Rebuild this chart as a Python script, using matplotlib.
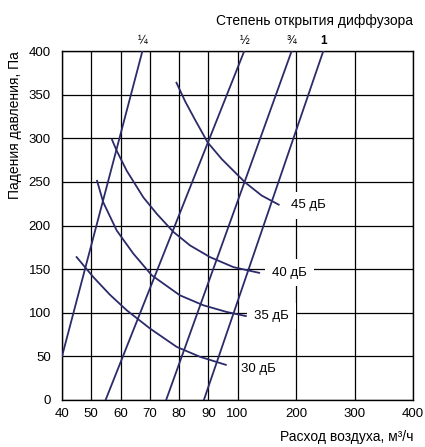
"""
Падение давления диффузора в зависимости от расхода воздуха
(номограмма: степень открытия + уровни шума).

Output: out.png
"""

import matplotlib
matplotlib.use('Agg')
import matplotlib.pyplot as plt
import numpy as np

plt.rcParams['font.family'] = ['Liberation Sans', 'DejaVu Sans']

# --- data -----------------------------------------------------------------
x_ticks = [40, 50, 60, 70, 80, 90, 100, 200, 300, 400]
y_ticks = [0, 50, 100, 150, 200, 250, 300, 350, 400]

# diffuser opening lines (bottom point -> top point)
opening_labels = ['¼', '½', '¾', '1']
opening_q_bottom = [40, 54.9, 75.6, 88.5]
opening_p_bottom = [50, 0, 0, 0]
opening_q_top = [67.5, 111.6, 192.6, 246.7]
opening_p_top = [400, 400, 400, 400]

# noise level curves
q_45 = [79.0, 82.1, 85.5, 89.8, 94.6, 112.8, 141.4, 171.8]
p_45 = [364.6, 342.3, 321.1, 295.2, 276.2, 249.5, 234.3, 223.4]

q_40 = [57.0, 58.7, 62.1, 67.8, 72.4, 78.1, 83.8, 90.6, 98.6, 138.5]
p_40 = [299.1, 285.7, 262.9, 232.3, 213.4, 192.6, 177.1, 163.8, 152.3, 145.5]

q_35 = [51.9, 54.1, 58.7, 64.4, 70.7, 80.3, 88.3, 96.3, 115.7]
p_35 = [252.2, 226.6, 194.3, 167.7, 142.9, 120.0, 108.6, 100.9, 96.0]

q_30 = [44.8, 50.7, 56.4, 62.1, 70.1, 79.2, 87.2, 96.3]
p_30 = [164.6, 140.9, 120.6, 102.9, 81.9, 60.9, 49.5, 40.0]

noise_labels = ['45 дБ', '40 дБ', '35 дБ', '30 дБ']
noise_label_q = [222, 189, 158, 136]
noise_label_p = [223, 146, 96, 36]


# piecewise axis: 40..100 step 10 and 100..400 step 100 get equal room per tick
def fwd(x):
    x = np.asarray(x, dtype=float)
    return np.where(x <= 100, (x - 40) / 10, 6 + (x - 100) / 50)


def inv(u):
    u = np.asarray(u, dtype=float)
    return np.where(u <= 6, 40 + 10 * u, 100 + 50 * (u - 6))


line_color = '#2b2a6a'

fig = plt.figure(figsize=(4.25, 4.47), dpi=100)
ax = fig.add_axes([62 / 425, 47 / 447, 351 / 425, 349 / 447])
ax.set_xscale('function', functions=(fwd, inv))
ax.set_xlim(40, 400)
ax.set_ylim(0, 400)
ax.set_xticks(x_ticks)
ax.set_xticklabels([str(v) for v in x_ticks])
ax.set_yticks(y_ticks)
ax.minorticks_off()
ax.tick_params(length=0, labelsize=9.5, colors='black')
ax.tick_params(axis='x', pad=6)
ax.tick_params(axis='y', pad=8)
ax.grid(True, color='black', linewidth=0.9, zorder=0)
ax.set_axisbelow(True)
for sp in ax.spines.values():
    sp.set_linewidth(1.0)

# opening lines
for lab, qb, pb, qt, pt in zip(opening_labels, opening_q_bottom, opening_p_bottom,
                               opening_q_top, opening_p_top):
    ax.plot([qb, qt], [pb, pt], color=line_color, linewidth=1.3, zorder=3)
    if lab == '1':
        ax.annotate(lab, xy=(qt, 1), xycoords=('data', 'axes fraction'),
                    xytext=(0, 3), textcoords='offset points', ha='center',
                    va='bottom', fontsize=8.5, fontweight='bold')
    else:
        ax.annotate(lab, xy=(qt, 1), xycoords=('data', 'axes fraction'),
                    xytext=(0, 3), textcoords='offset points', ha='center',
                    va='bottom', fontsize=8.5)

# noise curves
for q, p in [(q_45, p_45), (q_40, p_40), (q_35, p_35), (q_30, p_30)]:
    ax.plot(q, p, color=line_color, linewidth=1.3, zorder=3,
            solid_capstyle='butt', solid_joinstyle='round')

for lab, q, p in zip(noise_labels, noise_label_q, noise_label_p):
    if lab == '30 дБ':
        ax.text(q, p, lab, ha='center', va='center', fontsize=9.5, zorder=4)
    else:
        ax.text(q, p, lab, ha='center', va='center', fontsize=9.5, zorder=4,
                bbox=dict(boxstyle='square,pad=0.55', facecolor='white',
                          edgecolor='none'))

fig.text(413 / 425, 1 - 21 / 447, 'Степень открытия диффузора',
         ha='right', va='center', fontsize=10)
fig.text(413 / 425, 1 - 437 / 447, 'Расход воздуха, м³/ч',
         ha='right', va='center', fontsize=10)
fig.text(15 / 425, 1 - 51 / 447, 'Падения давления, Па', rotation=90,
         ha='center', va='top', fontsize=10)

fig.patch.set_facecolor('white')
plt.savefig('out.png', dpi=100, facecolor='white')
plt.close()
